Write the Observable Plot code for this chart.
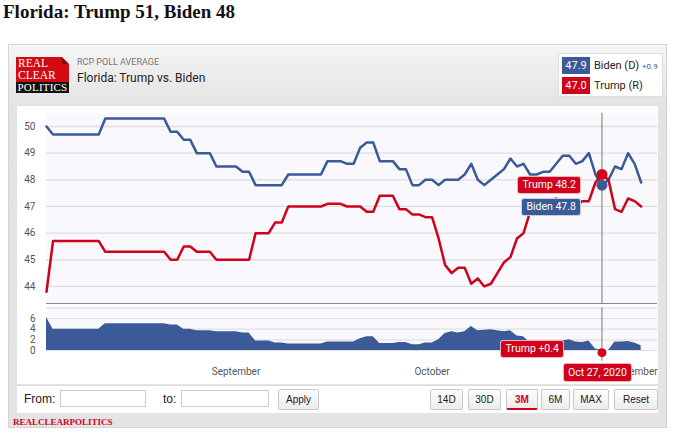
<!DOCTYPE html>
<html><head><meta charset="utf-8">
<script src="https://cdn.jsdelivr.net/npm/d3@7"></script>
<script src="https://cdn.jsdelivr.net/npm/@observablehq/plot@0.6"></script>
<style>
body{margin:0;background:#fff;width:674px;height:433px;overflow:hidden;position:relative;font-family:Roboto,"Liberation Sans",sans-serif;}
.abs{position:absolute;}
#title{left:3px;top:2px;font-family:"Liberation Serif",serif;font-weight:bold;font-size:19px;line-height:19px;color:#111;white-space:nowrap;}
#widget{left:8px;top:44px;width:657px;height:382px;border:1px solid #d4d4d4;background:linear-gradient(#f5f5f5,#e3e3e3 62px,#e4e4e4);}
#logo{left:16px;top:57px;width:53px;height:36px;}
#logo .red{position:absolute;left:0;top:0;width:53px;height:25px;background:#d20a11;}
#logo .blk{position:absolute;left:0;top:25px;width:53px;height:11px;background:#111;color:#fff;font-family:"Liberation Serif",serif;font-size:11px;line-height:11px;text-align:center;letter-spacing:0.2px;}
#logo .rt{position:absolute;left:2px;top:1px;color:#fff;font-family:"Liberation Serif",serif;font-size:11.5px;line-height:11.5px;}
#logo .fold{position:absolute;right:0;top:0;width:0;height:0;border-left:7px solid #8c0a0e;border-top:7px solid #eee;}
#sub1{left:77px;top:57px;font-size:9px;color:#777;}
#sub2{left:77px;top:71px;font-size:12px;color:#222;}
#legend{left:558px;top:53px;width:103px;height:42px;background:#fff;border:1px solid #ddd;}
.lbox{position:absolute;width:28px;height:17px;color:#fff;font-size:11px;line-height:17px;text-align:center;}
.ltxt{position:absolute;font-size:11px;color:#222;line-height:17px;}
#chartbox{left:17px;top:106px;width:641px;height:278px;background:#fff;}
#mainplot{left:17px;top:106px;}
#lowplot{left:17px;top:304px;}
.tip{position:absolute;color:#fff;font-size:10.5px;line-height:16px;height:16px;padding:0 4px;border-radius:3px;border:1px solid rgba(255,255,255,0.7);white-space:nowrap;}
#ctrl{left:17px;top:385px;width:641px;height:27px;background:#fff;border-top:1px solid #ddd;}
.lab{position:absolute;font-family:"Liberation Sans",sans-serif;font-size:12px;color:#222;}
.inp{position:absolute;height:15px;border:1px solid #ccc;background:#fff;}
.btn{position:absolute;height:19px;border:1px solid #c8c8c8;background:linear-gradient(#fdfdfd,#ececec);font-family:"Liberation Sans",sans-serif;font-size:10px;line-height:19px;text-align:center;color:#222;border-radius:2px;}
#foot{left:13px;top:417px;font-family:"Liberation Serif",serif;font-weight:bold;font-size:9px;color:#d0021b;}
</style></head><body>
<div id="title" class="abs">Florida: Trump 51, Biden 48</div>
<div id="widget" class="abs"></div>
<div id="logo" class="abs"><div class="red"><div class="rt">REAL<br>CLEAR</div></div><div class="fold"></div><div class="blk">POLITICS</div></div>
<div id="sub1" class="abs">RCP POLL AVERAGE</div>
<div id="sub2" class="abs">Florida: Trump vs. Biden</div>
<div id="legend" class="abs"></div>
<div id="chartbox" class="abs"></div>
<div id="mainplot" class="abs"></div>
<div id="lowplot" class="abs"></div>
<div id="tips"></div>
<div id="ctrl" class="abs"></div>
<div id="foot" class="abs">REALCLEARPOLITICS</div>
<script>
// ---- data ----
const dates = [
"2020-08-03","2020-08-04","2020-08-05","2020-08-06","2020-08-07","2020-08-08","2020-08-09","2020-08-10","2020-08-11","2020-08-12",
"2020-08-13","2020-08-14","2020-08-15","2020-08-16","2020-08-17","2020-08-18","2020-08-19","2020-08-20","2020-08-21","2020-08-22",
"2020-08-23","2020-08-24","2020-08-25","2020-08-26","2020-08-27","2020-08-28","2020-08-29","2020-08-30","2020-08-31",
"2020-09-01","2020-09-02","2020-09-03","2020-09-04","2020-09-05","2020-09-06","2020-09-07","2020-09-08","2020-09-09","2020-09-10",
"2020-09-11","2020-09-12","2020-09-13","2020-09-14","2020-09-15","2020-09-16","2020-09-17","2020-09-18","2020-09-19","2020-09-20",
"2020-09-21","2020-09-22","2020-09-23","2020-09-24","2020-09-25","2020-09-26","2020-09-27","2020-09-28","2020-09-29","2020-09-30",
"2020-10-01","2020-10-02","2020-10-03","2020-10-04","2020-10-05","2020-10-06","2020-10-07","2020-10-08","2020-10-09","2020-10-10",
"2020-10-11","2020-10-12","2020-10-13","2020-10-14","2020-10-15","2020-10-16","2020-10-17","2020-10-18","2020-10-19","2020-10-20",
"2020-10-21","2020-10-22","2020-10-23","2020-10-24","2020-10-25","2020-10-26","2020-10-27","2020-10-28","2020-10-29","2020-10-30",
"2020-10-31","2020-11-01","2020-11-02"];
const biden = [
50.0,49.7,49.7,49.7,49.7,49.7,49.7,49.7,49.7,50.3,
50.3,50.3,50.3,50.3,50.3,50.3,50.3,50.3,50.3,49.8,
49.8,49.5,49.5,49.0,49.0,49.0,48.5,48.5,48.5,
48.5,48.3,48.3,47.8,47.8,47.8,47.8,47.8,48.2,48.2,
48.2,48.2,48.2,48.2,48.7,48.7,48.7,48.6,48.6,49.2,
49.4,49.4,48.7,48.7,48.7,48.4,48.4,47.8,47.8,48.0,
48.0,47.8,48.0,48.0,48.0,48.2,48.6,48.0,47.8,48.0,
48.2,48.4,48.8,48.5,48.6,48.2,48.2,48.3,48.3,48.6,
48.9,48.9,48.6,48.7,49.0,48.2,47.8,48.0,48.5,48.4,
49.0,48.6,47.9];
const trump = [
43.8,45.7,45.7,45.7,45.7,45.7,45.7,45.7,45.7,45.3,
45.3,45.3,45.3,45.3,45.3,45.3,45.3,45.3,45.3,45.0,
45.0,45.5,45.5,45.3,45.3,45.3,45.0,45.0,45.0,
45.0,45.0,45.0,46.0,46.0,46.0,46.4,46.4,47.0,47.0,
47.0,47.0,47.0,47.0,47.1,47.1,47.1,47.0,47.0,47.0,
46.8,46.8,47.4,47.4,47.4,46.9,46.9,46.7,46.7,46.6,
46.6,45.8,44.8,44.5,44.7,44.7,44.1,44.3,44.0,44.1,
44.5,44.9,45.1,45.8,46.0,46.8,47.0,47.1,47.2,47.3,
47.1,46.9,47.0,47.2,47.2,47.9,48.2,48.0,46.9,46.8,
47.3,47.2,47.0];
const focusDate = "2020-10-27";
const yTicks = [44,45,46,47,48,49,50];
const spreadTicks = [0,2,4,6];
const spreadGrid = [0,2,4,6,8];
const monthTicks = ["2020-09-01","2020-10-01","2020-11-01"];
const candidates = ["Biden (D)","Trump (R)"];
const buttons = ["14D","30D","3M","6M","MAX","Reset"];

const BLUE = "#3a5a98", RED = "#d0021b";
const toDate = s => new Date(s + "T00:00:00Z");
const rows = dates.map((d,i) => ({date: toDate(d), biden: biden[i], trump: trump[i], spread: Math.round((biden[i]-trump[i])*10)/10}));
const focus = rows.find(r => +r.date === +toDate(focusDate));
const xDomain = [toDate("2020-08-03"), new Date(Date.UTC(2020,10,4,12))];
const yMin = 43.36;

const common = {width: 643, marginLeft: 29, marginRight: 3,
  style: {background: "transparent", fontFamily: "Roboto, sans-serif", fontSize: "10px", color: "#555", overflow: "visible"}};

const main = Plot.plot({...common, height: 198, marginTop: 6.67, marginBottom: 1,
  x: {type: "utc", domain: xDomain, axis: null},
  y: {domain: [yMin, 50.5], ticks: yTicks, tickSize: 0, tickPadding: 11, label: null},
  marks: [
    Plot.frame({fill: "#f9f9fd", stroke: null}),
    Plot.ruleY(yTicks, {stroke: "#dedede", strokeWidth: 1.3}),
    Plot.ruleY([yMin], {stroke: "#888", strokeWidth: 1}),
    Plot.ruleX([focus], {x: "date", stroke: "#777", strokeWidth: 1}),
    Plot.line(rows, {x: "date", y: "biden", stroke: BLUE, strokeWidth: 2.5}),
    Plot.line(rows, {x: "date", y: "trump", stroke: RED, strokeWidth: 2.5}),
    Plot.dot([focus], {x: "date", y: "trump", r: 5.5, fill: RED}),
    Plot.dot([focus], {x: "date", y: "biden", r: 5.5, fill: BLUE})
  ]});
document.getElementById("mainplot").append(main);

const low = Plot.plot({...common, height: 80, marginTop: 3.33, marginBottom: 34,
  x: {type: "utc", domain: xDomain, ticks: monthTicks.map(toDate), tickFormat: d3.utcFormat("%B"), tickSize: 0, tickPadding: 17, label: null},
  y: {domain: [0, 8], ticks: spreadTicks, tickSize: 0, tickPadding: 11, label: null},
  marks: [
    Plot.frame({fill: "#f9f9fd", stroke: null}),
    Plot.ruleY(spreadGrid, {stroke: "#e0e0e0", strokeWidth: 1.2}),
    Plot.areaY(rows, {x: "date", y: d => Math.max(0, d.spread), fill: BLUE}),
    Plot.ruleX([focus], {x: "date", y1: 8, y2: -2, stroke: "#777", strokeWidth: 1}),
    Plot.dot([focus], {x: "date", y: "spread", r: 4.5, fill: RED})
  ]});
document.getElementById("lowplot").append(low);

// tooltips positioned through the plot scales
const mx = main.scale("x"), my = main.scale("y"), ly = low.scale("y");
const cx = 17 + mx.apply(focus.date);
const tips = document.getElementById("tips");
function tip(text, color, left, top, align, h) {
  const el = document.createElement("div");
  el.className = "tip"; el.textContent = text; el.style.background = color;
  if (h) { el.style.height = h + "px"; el.style.lineHeight = h + "px"; }
  tips.append(el);
  const w = el.offsetWidth;
  el.style.left = (align === "right" ? left - w : align === "center" ? left - w/2 : left) + "px";
  el.style.top = top + "px";
}
tip(`Trump ${focus.trump.toFixed(1)}`, RED, cx - 21, 106 + my.apply(focus.trump) + 2, "right");
tip(`Biden ${focus.biden.toFixed(1)}`, BLUE, cx - 21, 106 + my.apply(focus.biden) + 13, "right");
tip(`Trump +${Math.abs(focus.spread).toFixed(1)}`, RED, cx - 38, 304 + ly.apply(focus.spread) - 12, "right");
tip(d3.utcFormat("%b %-d, %Y")(focus.date), RED, cx - 4, 363, "center", 17);

// legend
const last = rows[rows.length - 1];
const legend = document.getElementById("legend");
legend.innerHTML =
  `<div class="lbox" style="left:3px;top:3px;background:${BLUE}">${last.biden.toFixed(1)}</div>
   <div class="ltxt" style="left:35px;top:3px">${candidates[0]}</div>
   <div class="ltxt" style="left:83px;top:4px;font-size:8px;color:${BLUE}">+${(last.biden-last.trump).toFixed(1)}</div>
   <div class="lbox" style="left:3px;top:23px;background:${RED}">${last.trump.toFixed(1)}</div>
   <div class="ltxt" style="left:35px;top:23px">${candidates[1]}</div>`;

// control bar
const ctrl = document.getElementById("ctrl");
ctrl.innerHTML = `<div class="lab" style="left:7px;top:6px">From:</div>
<div class="inp" style="left:43px;top:4px;width:84px"></div>
<div class="lab" style="left:146px;top:6px">to:</div>
<div class="inp" style="left:164px;top:4px;width:86px"></div>
<div class="btn" style="left:261px;top:3px;width:39px">Apply</div>`;
const bx = [413, 451, 489, 524, 556, 597], bw = [31, 31, 30, 27, 34, 42];
buttons.forEach((b, i) => {
  const el = document.createElement("div");
  el.className = "btn"; el.textContent = b;
  el.style.left = bx[i] + "px"; el.style.top = "3px"; el.style.width = bw[i] + "px";
  if (b === "3M") { el.style.color = RED; el.style.fontWeight = "bold"; el.style.borderBottom = "2px solid " + RED; el.style.height = "18px"; }
  ctrl.append(el);
});
</script>
</body></html>
